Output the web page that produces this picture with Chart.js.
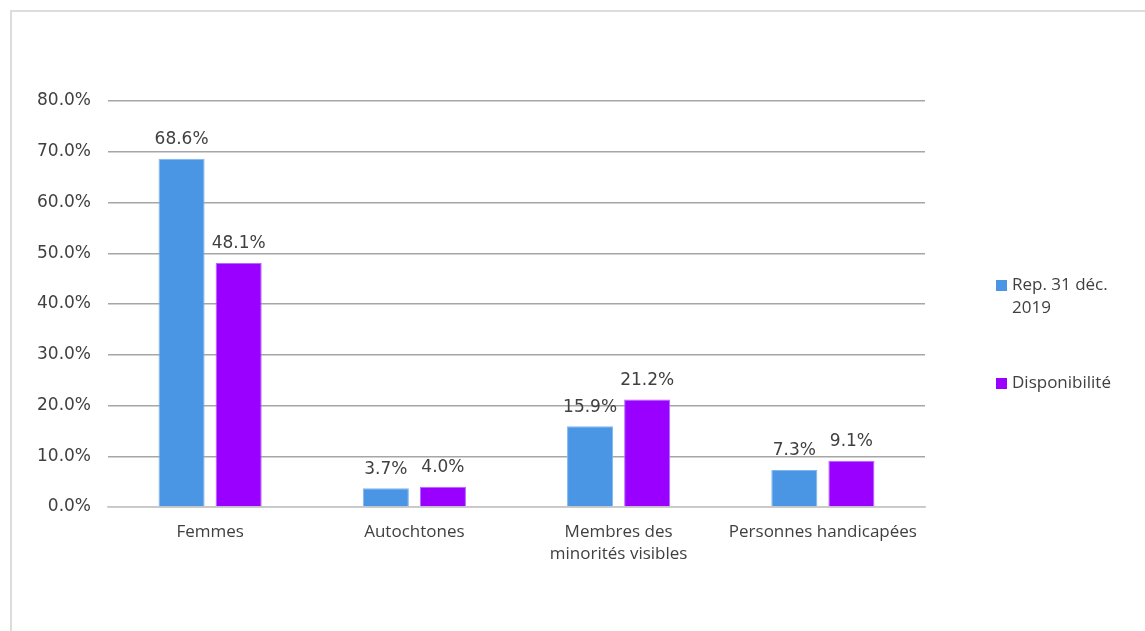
<!DOCTYPE html>
<html>
<head>
<meta charset="utf-8">
<script src="https://cdn.jsdelivr.net/npm/chart.js@4"></script>
<style>
html,body{margin:0;padding:0;background:#fff;}
#wrap{position:relative;width:1145px;height:631px;overflow:hidden;}
#frame{position:absolute;left:10px;top:10px;right:-5px;bottom:-5px;border-top:2px solid #dcdcdc;border-left:2px solid #dcdcdc;}
canvas{position:absolute;left:0;top:0;}
</style>
</head>
<body>
<div id="wrap"><div id="frame"></div><canvas id="c" width="1145" height="631"></canvas></div>
<script>
const categories = ["Femmes", "Autochtones", ["Membres des", "minorités visibles"], "Personnes handicapées"];
const seriesNames = [["Rep. 31 déc.", "2019"], ["Disponibilité"]];
const repValues = [68.6, 3.7, 15.9, 7.3];
const dispValues = [48.1, 4.0, 21.2, 9.1];
const yTicks = [0, 10, 20, 30, 40, 50, 60, 70, 80];
const colors = ["#4a96e4", "#9900ff"];

const TXT = "#404040";

const labelPlugin = {
  id: "valueLabels",
  afterDatasetsDraw(chart) {
    const ctx = chart.ctx;
    ctx.save();
    ctx.font = "17px 'DejaVu Sans'";
    ctx.fillStyle = TXT;
    ctx.textAlign = "center";
    ctx.textBaseline = "middle";
    chart.data.datasets.forEach((ds, i) => {
      const meta = chart.getDatasetMeta(i);
      meta.data.forEach((bar, j) => {
        ctx.fillText(ds.data[j].toFixed(1) + "%", bar.x, bar.y - 19);
      });
    });
    ctx.restore();
  }
};

const legendPlugin = {
  id: "sideLegend",
  afterDraw(chart) {
    const ctx = chart.ctx;
    ctx.save();
    ctx.font = "17px 'Open Sans'";
    ctx.textBaseline = "middle";
    const starts = [285, 383];
    chart.data.datasets.forEach((ds, i) => {
      const y0 = starts[i];
      ctx.fillStyle = ds.backgroundColor;
      ctx.fillRect(996, y0 - 5, 11, 11);
      ctx.fillStyle = TXT;
      seriesNames[i].forEach((line, k) => {
        ctx.fillText(line, 1012, y0 + k * 23);
      });
    });
    ctx.restore();
  }
};

new Chart(document.getElementById("c"), {
  type: "bar",
  data: {
    labels: categories,
    datasets: [
      { label: seriesNames[0].join(" "), data: repValues, backgroundColor: colors[0], borderColor: "#7fb6ef", borderWidth: 1 },
      { label: seriesNames[1].join(" "), data: dispValues, backgroundColor: colors[1], borderColor: "#b466ff", borderWidth: 1 }
    ]
  },
  options: {
    responsive: false,
    animation: false,
    events: [],
    layout: { padding: { left: 0, right: 220, top: 101, bottom: 0 } },
    plugins: { legend: { display: false }, tooltip: { enabled: false } },
    datasets: { bar: { categoryPercentage: 0.559, barPercentage: 0.807 } },
    scales: {
      x: {
        grid: { display: false, drawTicks: false },
        border: { display: true, color: "#c8c8c8", width: 1.5 },
        ticks: { color: TXT, font: { family: "Open Sans", size: 17, lineHeight: 1.25 }, padding: 15, maxRotation: 0, autoSkip: false },
        afterFit(scale) { scale.height = 124; }
      },
      y: {
        min: 0, max: 80,
        afterBuildTicks(scale) { scale.ticks = yTicks.map(v => ({ value: v })); },
        grid: { color: "#a6a6a6", lineWidth: 1.5, drawTicks: false },
        border: { display: false },
        ticks: { color: TXT, font: { family: "DejaVu Sans", size: 17 }, padding: 17, callback: v => v.toFixed(1) + "%" },
        afterFit(scale) { scale.width = 108; }
      }
    }
  },
  plugins: [labelPlugin, legendPlugin]
});
</script>
</body>
</html>
